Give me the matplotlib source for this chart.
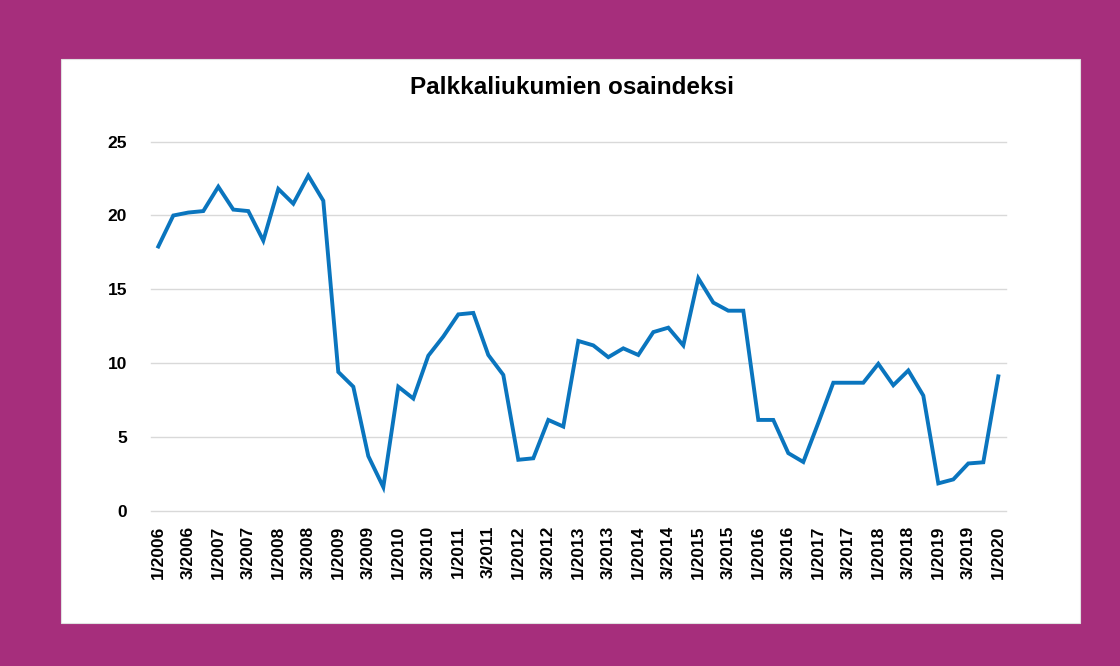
import matplotlib
matplotlib.use("Agg")
import matplotlib.pyplot as plt
from matplotlib.patches import Rectangle

title = "Palkkaliukumien osaindeksi"

periods = [f"{q}/{y}" for y in range(2006, 2020) for q in (1, 2, 3, 4)] + ["1/2020"]

values = [17.9, 20.0, 20.2, 20.3, 21.95, 20.4, 20.3, 18.3,
          21.8, 20.8, 22.7, 21.0, 9.4, 8.4, 3.7, 1.6,
          8.4, 7.6, 10.5, 11.8, 13.3, 13.4, 10.55, 9.2,
          3.45, 3.55, 6.15, 5.7, 11.5, 11.2, 10.4, 11.0,
          10.55, 12.1, 12.4, 11.2, 15.75, 14.1, 13.55, 13.55,
          6.15, 6.15, 3.9, 3.3, 5.95, 8.67, 8.67, 8.67,
          9.95, 8.5, 9.5, 7.8, 1.85, 2.12, 3.2, 3.28, 9.1]

yticks = [0, 5, 10, 15, 20, 25]

plt.rcParams['font.family'] = ['Liberation Sans', 'DejaVu Sans']

fig = plt.figure(figsize=(11.2, 6.66), dpi=100)
fig.patch.set_facecolor('#A62E7C')

# white panel
panel = Rectangle((61 / 1120, 1 - 623 / 666), (1080 - 61) / 1120, (623 - 59) / 666,
                  transform=fig.transFigure, facecolor='white',
                  edgecolor='#E0E0E0', linewidth=0.8, zorder=-10)
fig.add_artist(panel)

ax = fig.add_axes([150.8 / 1120, 1 - 510.7 / 666, 855 / 1120, 369 / 666])
ax.set_zorder(5)
ax.set_facecolor('none')

x = list(range(len(values)))
ax.plot(x, values, color='#0A75BE', linewidth=2.8, solid_joinstyle='miter', zorder=3)

ax.set_xlim(-0.5, len(values) - 0.5)
ax.set_ylim(0, 25)
ax.set_yticks(yticks)
ax.set_yticklabels([str(v) for v in yticks], fontsize=12.5, fontweight='bold')
ax.yaxis.grid(True, color='#D9D9D9', linewidth=1.0)
for gl in ax.get_ygridlines():
    gl.set_clip_on(False)
ax.set_axisbelow(True)

tick_pos = x[::2]
ax.set_xticks(tick_pos)
ax.set_xticklabels(periods[::2], rotation=90, fontsize=12.5, fontweight='bold')

for s in ax.spines.values():
    s.set_visible(False)
ax.tick_params(axis='both', length=0)
ax.tick_params(axis='y', pad=17)
ax.tick_params(axis='x', pad=11)

fig.text(571.5 / 1120, 1 - 88 / 666, title, ha='center', va='center',
         fontsize=17.5, fontweight='bold', zorder=6)

fig.savefig('out.png', dpi=100, facecolor=fig.get_facecolor())
